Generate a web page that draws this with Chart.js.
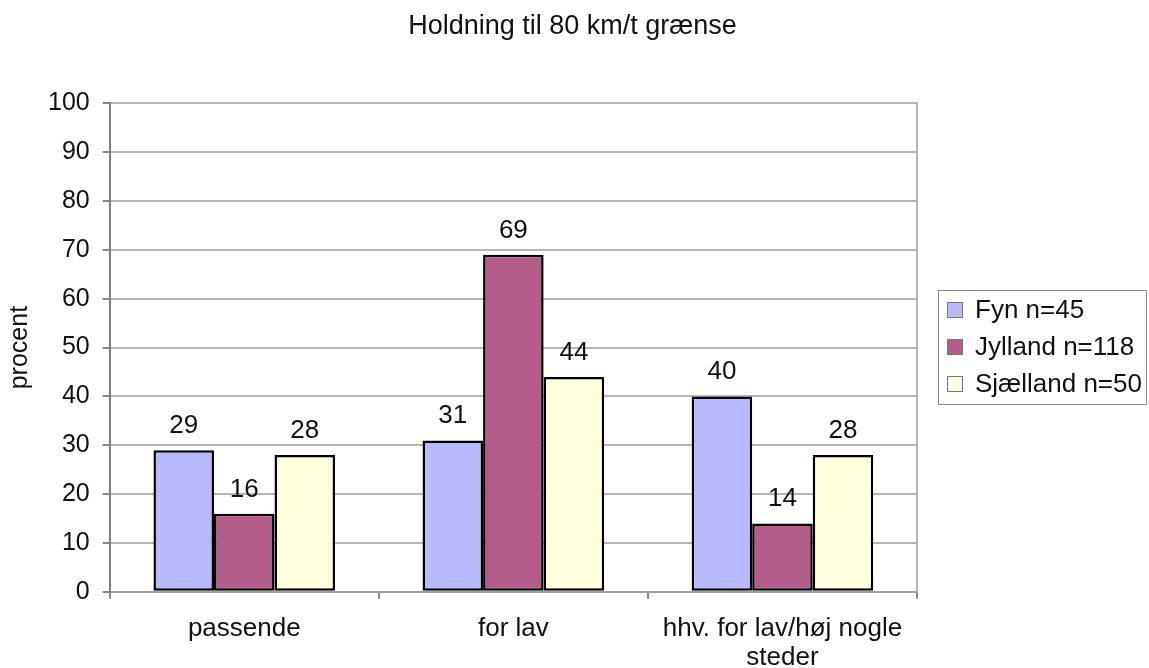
<!DOCTYPE html>
<html>
<head>
<meta charset="utf-8">
<script src="https://cdn.jsdelivr.net/npm/chart.js@4"></script>
<style>
  html, body { margin: 0; padding: 0; background: #fff; }
  #wrap { width: 1149px; height: 668px; }
</style>
</head>
<body>
<div id="wrap"><canvas id="chart" width="1149" height="668"></canvas></div>
<script>
const categories = ["passende", "for lav", ["hhv. for lav/høj nogle", "steder"]];
const seriesNames = ["Fyn n=45", "Jylland n=118", "Sjælland n=50"];
const fyn = [29, 31, 40];
const jylland = [16, 69, 14];
const sjaelland = [28, 44, 28];
const yTicks = [0, 10, 20, 30, 40, 50, 60, 70, 80, 90, 100];

const colors = ["#b9b9ff", "#b45d8a", "#ffffdd"];
const FONT = "'Liberation Sans', Arial, sans-serif";

// value labels above each bar
const barLabels = {
    id: "barLabels",
    afterDatasetsDraw(chart) {
        const ctx = chart.ctx;
        ctx.save();
        ctx.fillStyle = "#111";
        ctx.font = "26px " + FONT;
        ctx.textAlign = "center";
        ctx.textBaseline = "alphabetic";
        chart.data.datasets.forEach((ds, i) => {
            chart.getDatasetMeta(i).data.forEach((el, j) => {
                ctx.fillText(ds.data[j], el.x, el.y - 17);
            });
        });
        ctx.restore();
    }
};

// boxed legend on the right
const boxLegend = {
    id: "boxLegend",
    afterDraw(chart) {
        const ctx = chart.ctx;
        ctx.save();
        const lx = 938, ly = 290, lw = 208, lh = 114;
        ctx.strokeStyle = "#8c8c8c";
        ctx.lineWidth = 1;
        ctx.strokeRect(lx + 0.5, ly + 0.5, lw, lh);
        ctx.font = "26px " + FONT;
        ctx.textBaseline = "middle";
        ctx.textAlign = "left";
        chart.data.datasets.forEach((ds, i) => {
            const cy = ly + 20 + i * 37;
            ctx.fillStyle = ds.backgroundColor;
            ctx.fillRect(lx + 9, cy - 8, 16, 16);
            ctx.strokeStyle = "#777";
            ctx.strokeRect(lx + 9.5, cy - 7.5, 15, 15);
            ctx.fillStyle = "#111";
            ctx.fillText(ds.label, lx + 37, cy + 1);
        });
        ctx.restore();
    }
};

new Chart(document.getElementById("chart"), {
    type: "bar",
    data: {
        labels: categories,
        datasets: [fyn, jylland, sjaelland].map((d, i) => ({
            label: seriesNames[i],
            data: d,
            backgroundColor: colors[i],
            borderColor: "#000",
            borderWidth: 2.5,
            borderSkipped: false,
            barPercentage: 1,
            categoryPercentage: 0.675
        }))
    },
    options: {
        responsive: false,
        animation: false,
        layout: { padding: { left: -4, right: 0, top: 0, bottom: -20 } },
        plugins: {
            legend: { display: false },
            tooltip: { enabled: false },
            title: {
                display: true,
                text: "Holdning til 80 km/t grænse",
                color: "#111",
                font: { family: FONT, size: 27, weight: "normal" },
                padding: { top: 10, bottom: 61 }
            }
        },
        scales: {
            x: {
                offset: true,
                grid: {
                    offset: true,
                    drawOnChartArea: false,
                    tickLength: 7,
                    tickColor: "#888",
                    lineWidth: 2
                },
                border: { display: true, color: "#a0a0a0", width: 2 },
                ticks: {
                    color: "#111",
                    padding: 16,
                    maxRotation: 0,
                    font: { family: FONT, size: 26, lineHeight: 1.1 }
                }
            },
            y: {
                min: 0,
                max: 100,
                afterBuildTicks: axis => { axis.ticks = yTicks.map(v => ({ value: v })); },
                grid: {
                    color: "#b4b4b4",
                    lineWidth: 2,
                    tickLength: 7,
                    tickColor: "#888"
                },
                border: { display: true, color: "#808080", width: 2 },
                ticks: {
                    color: "#111",
                    padding: 13,
                    font: { family: FONT, size: 25 }
                },
                title: {
                    display: true,
                    text: "procent",
                    color: "#111",
                    font: { family: FONT, size: 25 },
                    padding: { top: 9, bottom: 0 }
                }
            },
            // empty right axis: frames the plot and leaves room for the legend
            y2: {
                position: "right",
                min: 0,
                max: 100,
                grid: { display: false },
                ticks: { display: false },
                border: { display: true, color: "#b4b4b4", width: 2 },
                afterFit: axis => { axis.width = 232; }
            }
        }
    },
    plugins: [barLabels, boxLegend]
});
</script>
</body>
</html>
